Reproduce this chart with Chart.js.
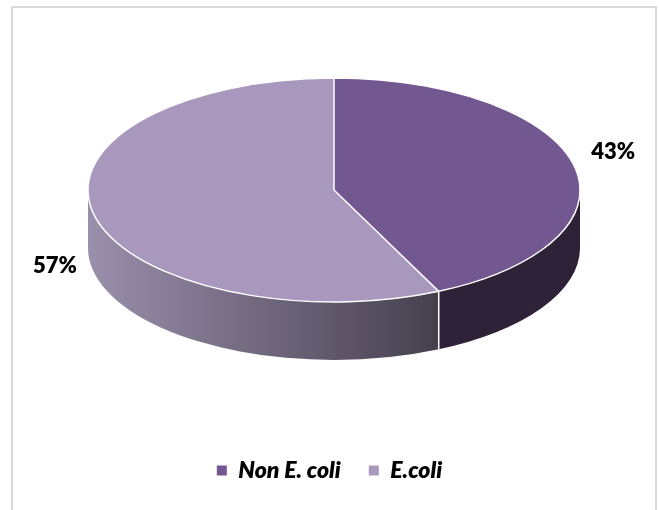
<!DOCTYPE html>
<html>
<head>
<meta charset="utf-8">
<script src="https://cdn.jsdelivr.net/npm/chart.js@4.4.0/dist/chart.umd.min.js"></script>
<style>
html, body { margin: 0; padding: 0; background: #fff; overflow: hidden; }
#wrap { position: relative; width: 659px; height: 510px; }
#moldura { position: absolute; left: 11px; top: 6px; width: 646px; height: 530px; border: 2px solid #d9d9d9; box-sizing: border-box; }
canvas { position: absolute; left: 0; top: 0; }
</style>
</head>
<body>
<div id="wrap">
    <div id="moldura"></div>
    <canvas id="chartPizza" width="659" height="510"></canvas>
</div>
<script>
const categorias = ['Non E. coli', 'E.coli']
const valores = [43, 57]
const rotulos = ['43%', '57%']

const coresTopo = ['#735790', '#A898BE']

// elipse do topo na tela (a pizza do chart.js e achatada pra ela)
const CX = 334, CY = 190, RX = 246, RY = 112, PROF = 58

function aplicarTransform(ctx, arc) {
    ctx.translate(CX, CY)
    ctx.scale(RX / arc.outerRadius, RY / arc.outerRadius)
    ctx.translate(-arc.x, -arc.y)
}

function corLado(ctx, arc, i) {
    if (i == 0) {
        return '#2d2237'
    }
    const g = ctx.createLinearGradient(arc.x - arc.outerRadius, 0, arc.x + arc.outerRadius, 0)
    g.addColorStop(0, '#9a8fac')
    g.addColorStop(0.76, '#403a47')
    g.addColorStop(1, '#2d2237')
    return g
}

const pizza3d = {
    id: 'pizza3d',
    beforeDatasetsDraw(chart) {
        const ctx = chart.ctx
        const arcs = chart.getDatasetMeta(0).data
        const r = arcs[0].outerRadius
        const d = PROF * r / RY
        ctx.save()
        aplicarTransform(ctx, arcs[0])
        arcs.forEach((arc, i) => {
            // so a parte da frente aparece (angulos 0..PI)
            [[0, Math.PI], [2 * Math.PI, 3 * Math.PI]].forEach(([ini, fim]) => {
                const s = Math.max(arc.startAngle, ini)
                const e = Math.min(arc.endAngle, fim)
                if (e <= s) return
                ctx.beginPath()
                ctx.arc(arc.x, arc.y, r, s, e)
                ctx.lineTo(arc.x + r * Math.cos(e), arc.y + r * Math.sin(e) + d)
                ctx.arc(arc.x, arc.y + d, r, e, s, true)
                ctx.closePath()
                ctx.fillStyle = corLado(ctx, arc, i)
                ctx.fill()
            })
        })
    },
    afterDatasetsDraw(chart) {
        const ctx = chart.ctx
        const arcs = chart.getDatasetMeta(0).data
        const r = arcs[0].outerRadius
        const d = PROF * r / RY
        ctx.beginPath()
        arcs.forEach((arc) => {
            ctx.moveTo(arc.x, arc.y)
            ctx.arc(arc.x, arc.y, r, arc.startAngle, arc.endAngle)
            ctx.closePath()
            const b = arc.endAngle
            if (Math.sin(b) > 0.02) {
                ctx.moveTo(arc.x + r * Math.cos(b), arc.y + r * Math.sin(b))
                ctx.lineTo(arc.x + r * Math.cos(b), arc.y + r * Math.sin(b) + d)
            }
        })
        ctx.restore()
        ctx.strokeStyle = '#ffffff'
        ctx.lineWidth = 1.5
        ctx.lineJoin = 'round'
        ctx.stroke()

        // porcentagens
        ctx.save()
        ctx.fillStyle = '#000000'
        ctx.font = '800 22px Lato'
        ctx.textAlign = 'center'
        ctx.textBaseline = 'middle'
        arcs.forEach((arc, i) => {
            const m = (arc.startAngle + arc.endAngle) / 2
            let x = CX + (RX + 40) * Math.cos(m)
            let y = CY + (RY + 62) * Math.sin(m)
            if (Math.sin(m) > 0) y += PROF * 0.65
            ctx.fillText(rotulos[i], x, y)
        })
        ctx.restore()
    }
}

document.addEventListener('DOMContentLoaded', () => {
    const ctxPizza = document.getElementById('chartPizza')

    new Chart(ctxPizza, {
        type: 'pie',
        data: {
            labels: categorias,
            datasets: [{
                data: valores,
                backgroundColor: coresTopo,
                borderWidth: 0,
                hoverOffset: 0
            }]
        },
        options: {
            responsive: false,
            animation: false,
            layout: {
                padding: { bottom: 18 }
            },
            plugins: {
                legend: {
                    position: 'bottom',
                    labels: {
                        boxWidth: 10,
                        boxHeight: 10,
                        padding: 28,
                        color: '#000000',
                        font: {
                            family: 'Lato',
                            size: 23,
                            weight: '800',
                            style: 'italic'
                        }
                    }
                },
                tooltip: { enabled: false }
            }
        },
        plugins: [pizza3d]
    })
})
</script>
</body>
</html>
